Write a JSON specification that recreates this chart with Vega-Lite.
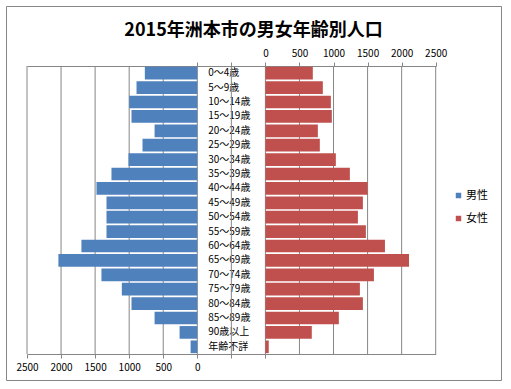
{
  "$schema": "https://vega.github.io/schema/vega-lite/v6.json",
  "width": 495,
  "height": 374,
  "autosize": {"type": "none"},
  "padding": {"left": 6, "top": 6, "right": 10, "bottom": 9},
  "background": "white",
  "title": {"text": "2015年洲本市の男女年齢別人口", "fontSize": 18, "font": "Noto Sans CJK JP", "fontWeight": "bold", "color": "#000000", "anchor": "middle", "frame": "group", "offset": -34},
  "config": {
    "view": {"stroke": "#868686", "strokeWidth": 1},
    "font": "Noto Sans CJK JP",
    "axis": {"labelFont": "Noto Sans CJK JP", "labelColor": "#000000", "labelFontSize": 10, "gridColor": "#868686", "domainColor": "#868686", "tickColor": "#868686", "gridOpacity": 1, "labelFlush": false}
  },
  "data": {
    "values": [
      {"age": "0～4歳", "male": 770, "female": 696},
      {"age": "5～9歳", "male": 892, "female": 843},
      {"age": "10～14歳", "male": 1000, "female": 961},
      {"age": "15～19歳", "male": 966, "female": 975},
      {"age": "20～24歳", "male": 627, "female": 770},
      {"age": "25～29歳", "male": 804, "female": 799},
      {"age": "30～34歳", "male": 1010, "female": 1034},
      {"age": "35～39歳", "male": 1260, "female": 1240},
      {"age": "40～44歳", "male": 1480, "female": 1500},
      {"age": "45～49歳", "male": 1333, "female": 1431},
      {"age": "50～54歳", "male": 1333, "female": 1358},
      {"age": "55～59歳", "male": 1333, "female": 1475},
      {"age": "60～64歳", "male": 1701, "female": 1755},
      {"age": "65～69歳", "male": 2039, "female": 2108},
      {"age": "70～74歳", "male": 1407, "female": 1593},
      {"age": "75～79歳", "male": 1108, "female": 1387},
      {"age": "80～84歳", "male": 966, "female": 1431},
      {"age": "85～89歳", "male": 627, "female": 1078},
      {"age": "90歳以上", "male": 260, "female": 681},
      {"age": "年齢不詳", "male": 98, "female": 49}
    ]
  },
  "encoding": {
    "y": {
      "field": "age", "type": "nominal", "sort": null,
      "scale": {"domain": ["0～4歳", "5～9歳", "10～14歳", "15～19歳", "20～24歳", "25～29歳", "30～34歳", "35～39歳", "40～44歳", "45～49歳", "50～54歳", "55～59歳", "60～64歳", "65～69歳", "70～74歳", "75～79歳", "80～84歳", "85～89歳", "90歳以上", "年齢不詳"], "range": [60, 348], "paddingInner": 0.12, "paddingOuter": 0.06},
      "axis": {"orient": "left", "offset": -201.7, "domain": false, "ticks": false, "tickSize": 0, "labelPadding": 0, "labelAlign": "left", "labelFontSize": 10, "title": null, "grid": false}
    }
  },
  "layer": [
    {
      "data": {"values": [{"v": -3500}, {"v": -3000}, {"v": -2500}, {"v": -2000}, {"v": -1500}, {"v": -1000}, {"v": -500}, {"v": 0}, {"v": 500}, {"v": 1000}, {"v": 1500}, {"v": 2000}, {"v": 2500}]},
      "mark": {"type": "rule", "color": "#868686", "strokeWidth": 1, "yOffset": -0.9, "y2Offset": 7.2},
      "encoding": {
        "x": {"field": "v", "type": "quantitative", "scale": {"domain": [-3500, 2500], "range": [21, 429.7], "nice": false}, "axis": null},
        "y": {"datum": "0～4歳", "bandPosition": 0},
        "y2": {"datum": "年齢不詳"}
      }
    },
    {
      "mark": {"type": "bar"},
      "encoding": {
        "x": {
          "field": "male", "type": "quantitative",
          "scale": {"domain": [-3500, 2500], "reverse": true, "range": [21, 429.7], "nice": false},
          "axis": {"orient": "bottom", "offset": -26, "values": [-1000, -500, 0, 500, 1000, 1500, 2000, 2500], "labelExpr": "datum.value >= 0 ? datum.label : ''", "title": null, "grid": false, "tickSize": 4, "labelPadding": 4, "format": "d"}
        },
        "color": {"datum": "男性", "type": "nominal", "scale": {"domain": ["男性", "女性"], "range": ["#4F81BD", "#C0504D"]},
          "legend": {"orient": "none", "legendX": 447, "legendY": 184, "title": null, "symbolType": "square", "symbolSize": 30, "symbolStrokeWidth": 0, "labelFontSize": 11, "labelFont": "Noto Sans CJK JP", "labelColor": "#000000", "rowPadding": 11, "labelOffset": 2}}
      }
    },
    {
      "mark": {"type": "bar"},
      "encoding": {
        "x": {
          "field": "female", "type": "quantitative",
          "scale": {"domain": [-3500, 2500], "range": [21, 429.7], "nice": false},
          "axis": {"orient": "top", "offset": -60, "values": [-1000, -500, 0, 500, 1000, 1500, 2000, 2500], "labelExpr": "datum.value >= 0 ? datum.label : ''", "title": null, "grid": false, "tickSize": 4, "labelPadding": 4, "format": "d"}
        },
        "color": {"datum": "女性", "type": "nominal"}
      }
    }
  ],
  "resolve": {"scale": {"x": "independent"}, "axis": {"x": "independent"}}
}
